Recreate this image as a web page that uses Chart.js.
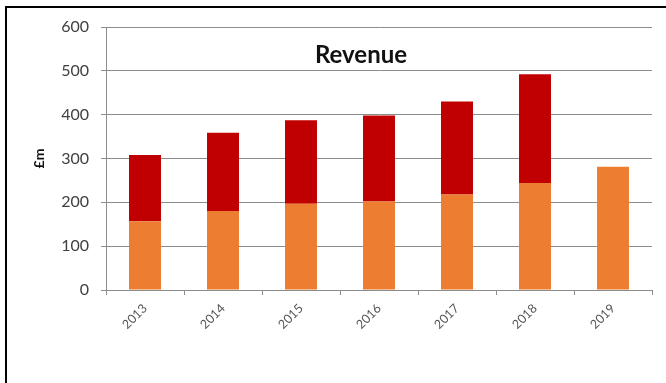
<!DOCTYPE html>
<html>
<head>
<meta charset="utf-8">
<title>Revenue</title>
<script src="https://cdn.jsdelivr.net/npm/chart.js@4/dist/chart.umd.min.js"></script>
<style>
  html, body { margin: 0; padding: 0; background: #fff; }
  #wrap { width: 666px; height: 383px; position: relative; }
</style>
</head>
<body>
<div id="wrap"><canvas id="mycanvas" width="666" height="383"></canvas></div>
<script>
// revenue by year, £m (lower segment + upper segment stacked)
var years = ['2013', '2014', '2015', '2016', '2017', '2018', '2019'];
var lowerRevenue = [157, 180, 197, 202, 218, 244, 281];
var upperRevenue = [151, 179, 190, 196, 212, 248, null];
var yTicks = [0, 100, 200, 300, 400, 500, 600];

var gridGrey = '#8c8c8c';
var fontFamily = 'Lato, "Open Sans", sans-serif';

// black frame on the left and top edges, chart title inside the plot
var framePlugin = {
    id: 'frame',
    beforeDraw: function (chart) {
        var ctx = chart.ctx;
        ctx.save();
        ctx.fillStyle = '#fff';
        ctx.fillRect(0, 0, chart.width, chart.height);
        ctx.strokeStyle = '#000';
        ctx.lineWidth = 2;
        ctx.beginPath();
        ctx.moveTo(6, chart.height);
        ctx.lineTo(6, 7);
        ctx.lineTo(chart.width, 7);
        ctx.stroke();
        ctx.restore();
    },
    afterDraw: function (chart) {
        var ctx = chart.ctx;
        ctx.save();
        ctx.font = 'bold 24px ' + fontFamily;
        ctx.fillStyle = '#111';
        ctx.textAlign = 'center';
        ctx.textBaseline = 'alphabetic';
        ctx.fillText('Revenue', 361, 63);
        ctx.restore();
    }
};

var ctx = document.getElementById('mycanvas');

var barGraph = new Chart(ctx, {
    type: 'bar',
    data: {
        labels: years,
        datasets: [
            {
                label: 'Lower',
                data: lowerRevenue,
                backgroundColor: '#ED7D31',
                borderWidth: 0,
                categoryPercentage: 1,
                barPercentage: 0.41
            },
            {
                label: 'Upper',
                data: upperRevenue,
                backgroundColor: '#C00000',
                borderWidth: 0,
                categoryPercentage: 1,
                barPercentage: 0.41
            }
        ]
    },
    options: {
        responsive: false,
        animation: false,
        layout: { padding: { left: 0, top: 27, right: 14, bottom: 33 } },
        plugins: {
            legend: { display: false },
            tooltip: { enabled: false }
        },
        scales: {
            x: {
                stacked: true,
                offset: true,
                grid: {
                    offset: true,
                    drawOnChartArea: false,
                    drawTicks: true,
                    tickLength: 5,
                    color: gridGrey
                },
                border: { color: gridGrey, width: 1 },
                ticks: {
                    autoSkip: false,
                    maxRotation: 45,
                    minRotation: 45,
                    padding: 6,
                    color: '#555',
                    font: { family: fontFamily, size: 12.5 }
                },
                afterFit: function (scale) { scale.height = 60; }
            },
            y: {
                stacked: true,
                min: 0,
                max: 600,
                afterBuildTicks: function (scale) {
                    scale.ticks = yTicks.map(function (v) { return { value: v }; });
                },
                grid: {
                    color: gridGrey,
                    tickLength: 5
                },
                border: { color: gridGrey, width: 1 },
                ticks: {
                    padding: 12,
                    color: '#404040',
                    font: { family: fontFamily, size: 16 }
                },
                title: {
                    display: true,
                    text: '£m',
                    color: '#111',
                    font: { family: fontFamily, size: 14, weight: 'bold' },
                    padding: { top: 31, bottom: 0 }
                },
                afterFit: function (scale) { scale.width = 106; }
            }
        }
    },
    plugins: [framePlugin]
});
</script>
</body>
</html>
